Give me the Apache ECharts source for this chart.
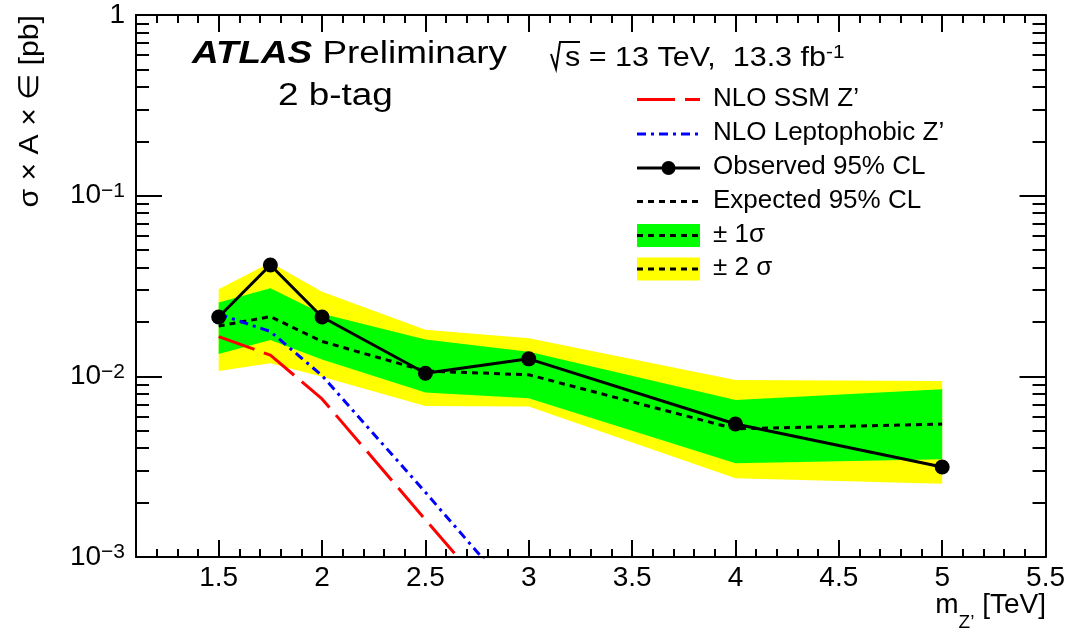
<!DOCTYPE html>
<html>
<head>
<meta charset="utf-8">
<script src="https://cdn.jsdelivr.net/npm/echarts@6/dist/echarts.min.js"></script>
<style>
	html, body { margin: 0; padding: 0; background: #fff; }
	#chart { width: 1068px; height: 634px; }
</style>
</head>
<body>
<div id="chart"></div>
<script>
// Z' masses [TeV] of the limit points
var massPoints = [1.5, 1.75, 2, 2.5, 3, 4, 5];
var observed = [0.0213, 0.0413, 0.0213, 0.0104, 0.0125, 0.00545, 0.00315];
var expected = [0.0190, 0.0214, 0.0156, 0.0107, 0.0102, 0.00512, 0.00544];
var band1Lo = [0.0133, 0.0159, 0.0124, 0.00813, 0.00756, 0.0033, 0.00348];
var band1Hi = [0.0256, 0.0307, 0.0222, 0.0160, 0.0137, 0.0074, 0.00848];
var band2Lo = [0.0107, 0.0118, 0.00996, 0.00686, 0.0068, 0.00273, 0.00254];
var band2Hi = [0.0303, 0.0426, 0.0294, 0.0181, 0.01625, 0.00955, 0.00943];

// theory curves
var massTheory = [1.5, 1.75, 2, 2.5, 3];
var ssmXsec = [0.0166, 0.0131, 0.0075, 0.00161, 0.00035];
var leptoXsec = [0.0221, 0.0177, 0.0101, 0.00228, 0.0005];

// tick labels
var xMajorTicks = [1.5, 2, 2.5, 3, 3.5, 4, 4.5, 5, 5.5];
var yMajorTicks = [0.001, 0.01, 0.1, 1];

var xMinorTicks = [];
for (var i = 11; i <= 55; i++) xMinorTicks.push(i / 10);
var yMinorTicks = [];
[0.001, 0.01, 0.1].forEach(function(d) {
	for (var k = 2; k <= 9; k++) yMinorTicks.push(+(d * k).toPrecision(3));
});

var FONT = "'Liberation Sans', Arial, Helvetica, sans-serif";

function pairs(xs, ys) {
	return xs.map(function(x, i) { return [x, ys[i]]; });
}

// band as one polygon: lo edge forward, hi edge backward
function bandSeries(lo, hi, color) {
	return {
		type: 'custom', silent: true, clip: true,
		data: massPoints.map(function(x, i) { return [x, lo[i], hi[i]]; }),
		encode: { x: 0, y: [1, 2] },
		renderItem: function(params, api) {
			if (params.dataIndex !== 0) return null;
			var pts = [];
			for (var j = 0; j < massPoints.length; j++) pts.push(api.coord([massPoints[j], lo[j]]));
			for (var j2 = massPoints.length - 1; j2 >= 0; j2--) pts.push(api.coord([massPoints[j2], hi[j2]]));
			return { type: 'polygon', shape: { points: pts }, style: { fill: color, stroke: null } };
		}
	};
}

var chart = echarts.init(document.getElementById('chart'), null, { renderer: 'canvas' });

function xAxisDef(pos, ticks, len, labels, line) {
	return {
		type: 'value', position: pos, min: 1.1, max: 5.5,
		axisLine: { show: line, onZero: false, lineStyle: { color: '#000', width: 2 } },
		axisTick: { show: true, inside: true, length: len, customValues: ticks, lineStyle: { color: '#000', width: 2 } },
		axisLabel: labels ? {
			show: true, customValues: xMajorTicks, margin: 7, color: '#000',
			fontSize: 28, fontFamily: FONT
		} : { show: false },
		splitLine: { show: false }
	};
}
function yAxisDef(pos, ticks, len, labels, line) {
	return {
		type: 'log', logBase: 10, position: pos, min: 0.001, max: 1,
		axisLine: { show: line, onZero: false, lineStyle: { color: '#000', width: 2 } },
		axisTick: { show: true, inside: true, length: len, customValues: ticks, lineStyle: { color: '#000', width: 2 } },
		axisLabel: labels ? {
			show: true, customValues: yMajorTicks, margin: 11, color: '#000',
			fontSize: 28, fontFamily: FONT, lineHeight: 30,
			formatter: function(v) {
				var n = Math.round(Math.log(v) / Math.LN10);
				if (n === 0) return '1';
				return '10{sup|\u2212' + (-n) + '}';
			},
			rich: {
				sup: { fontSize: 21, fontFamily: FONT, color: '#000', verticalAlign: 'top', lineHeight: 22 }
			}
		} : { show: false },
		splitLine: { show: false }
	};
}

// legend drawn by hand, ROOT style
var legX0 = 637, legX1 = 700, legText = 713;
var legRows = [99.5, 134, 168, 201.5, 235.5, 269];
var legNames = ['NLO SSM Z\u2019', 'NLO Leptophobic Z\u2019', 'Observed 95% CL', 'Expected 95% CL', '\u00b1 1\u03c3', '\u00b1 2 \u03c3'];

var graphics = [
	{ type: 'rect', shape: { x: legX0, y: legRows[4] - 11.5, width: legX1 - legX0, height: 23 }, style: { fill: '#00ff00' } },
	{ type: 'rect', shape: { x: legX0, y: legRows[5] - 11.5, width: legX1 - legX0, height: 23 }, style: { fill: '#ffff00' } },
	{ type: 'line', shape: { x1: legX0, y1: legRows[0], x2: legX1, y2: legRows[0] }, style: { stroke: '#ff0000', lineWidth: 3, lineDash: [38, 10] } },
	{ type: 'line', shape: { x1: legX0, y1: legRows[1], x2: legX1, y2: legRows[1] }, style: { stroke: '#0000ff', lineWidth: 3, lineDash: [9, 5, 3, 5] } },
	{ type: 'line', shape: { x1: legX0, y1: legRows[2], x2: legX1, y2: legRows[2] }, style: { stroke: '#000', lineWidth: 3 } },
	{ type: 'circle', shape: { cx: (legX0 + legX1) / 2, cy: legRows[2], r: 7 }, style: { fill: '#000' } },
	{ type: 'line', shape: { x1: legX0, y1: legRows[3], x2: legX1, y2: legRows[3] }, style: { stroke: '#000', lineWidth: 3, lineDash: [6, 5] } },
	{ type: 'line', shape: { x1: legX0, y1: legRows[4], x2: legX1, y2: legRows[4] }, style: { stroke: '#000', lineWidth: 3, lineDash: [6, 5] } },
	{ type: 'line', shape: { x1: legX0, y1: legRows[5], x2: legX1, y2: legRows[5] }, style: { stroke: '#000', lineWidth: 3, lineDash: [6, 5] } },
	// ATLAS label
	{
		type: 'text', x: 192, y: 54, scaleX: 1.19,
		style: {
			text: '{a|ATLAS} {b|Preliminary}', x: 0, y: 0, verticalAlign: 'middle',
			fontSize: 31, fontFamily: FONT, fill: '#000',
			rich: {
				a: { fontSize: 31, fontFamily: FONT, fontWeight: 'bold', fontStyle: 'italic', fill: '#000' },
				b: { fontSize: 31, fontFamily: FONT, fill: '#000' }
			}
		}
	},
	{
		type: 'text', x: 278, y: 96, scaleX: 1.19,
		style: { text: '2 b-tag', x: 0, y: 0, verticalAlign: 'middle', fontSize: 31, fontFamily: FONT, fill: '#000' }
	},
	// sqrt(s) line
	{ type: 'polyline', shape: { points: [[551, 54], [556, 69], [560, 42], [580, 42]] }, style: { stroke: '#000', lineWidth: 2, fill: null } },
	{
		type: 'text', x: 565, y: 58, scaleX: 1.09,
		style: {
			text: 's = 13 TeV,  13.3 fb{sup|-1}', x: 0, y: 0, verticalAlign: 'middle',
			fontSize: 28, fontFamily: FONT, fill: '#000', lineHeight: 30,
			rich: { sup: { fontSize: 19, fontFamily: FONT, fill: '#000', verticalAlign: 'top', lineHeight: 20 } }
		}
	},
	// axis titles
	{
		type: 'text', x: 30, y: 15, rotation: Math.PI / 2, scaleX: 1.08,
		style: { text: '\u03c3 \u00d7 A \u00d7 \u2208 [pb]', x: 0, y: 0, align: 'right', verticalAlign: 'middle', fontSize: 28, fontFamily: FONT, fill: '#000' }
	},
	{
		type: 'text', x: 1046, y: 605,
		style: {
			text: 'm{sub|Z\u2019} [TeV]', x: 0, y: 0, align: 'right', verticalAlign: 'middle',
			fontSize: 28, fontFamily: FONT, fill: '#000', lineHeight: 30,
			rich: { sub: { fontSize: 19, fontFamily: FONT, fill: '#000', verticalAlign: 'bottom', lineHeight: 20, padding: [0, 0, -12, 0] } }
		}
	}
];
legNames.forEach(function(name, i) {
	graphics.push({
		type: 'text', x: legText, y: legRows[i] - 1,
		style: { text: name, x: 0, y: 0, verticalAlign: 'middle', fontSize: 26, fontFamily: FONT, fill: '#000' }
	});
});
graphics.forEach(function(g) { g.z = 100; });

var option = {
	animation: false,
	backgroundColor: '#fff',
	grid: { left: 136, right: 20, top: 15, bottom: 77, containLabel: false },
	xAxis: [
		xAxisDef('bottom', xMajorTicks, 17, true, true),
		xAxisDef('bottom', xMinorTicks, 8, false, false),
		xAxisDef('top', xMajorTicks, 17, false, true),
		xAxisDef('top', xMinorTicks, 8, false, false)
	],
	yAxis: [
		yAxisDef('left', yMajorTicks, 26, true, true),
		yAxisDef('left', yMinorTicks, 13, false, false),
		yAxisDef('right', yMajorTicks, 26, false, true),
		yAxisDef('right', yMinorTicks, 13, false, false)
	],
	graphic: { elements: graphics },
	series: [
		// +-2 sigma and +-1 sigma bands
		bandSeries(band2Lo, band2Hi, '#ffff00'),
		bandSeries(band1Lo, band1Hi, '#00ff00'),
		{
			name: 'Expected 95% CL', type: 'line', data: pairs(massPoints, expected), silent: true,
			symbol: 'none', lineStyle: { color: '#000', width: 3, type: [6, 5] }
		},
		{
			name: 'Observed 95% CL', type: 'line', data: pairs(massPoints, observed), silent: true,
			symbol: 'circle', symbolSize: 15, showSymbol: true,
			itemStyle: { color: '#000' }, lineStyle: { color: '#000', width: 3 }
		},
		{
			name: 'NLO SSM Z\u2019', type: 'line', data: pairs(massTheory, ssmXsec), silent: true, clip: true,
			symbol: 'none', lineStyle: { color: '#ff0000', width: 3, type: [38, 10] }
		},
		{
			name: 'NLO Leptophobic Z\u2019', type: 'line', data: pairs(massTheory, leptoXsec), silent: true, clip: true,
			symbol: 'none', lineStyle: { color: '#0000ff', width: 3, type: [9, 5, 3, 5] }
		}
	]
};

chart.setOption(option);
</script>
</body>
</html>
